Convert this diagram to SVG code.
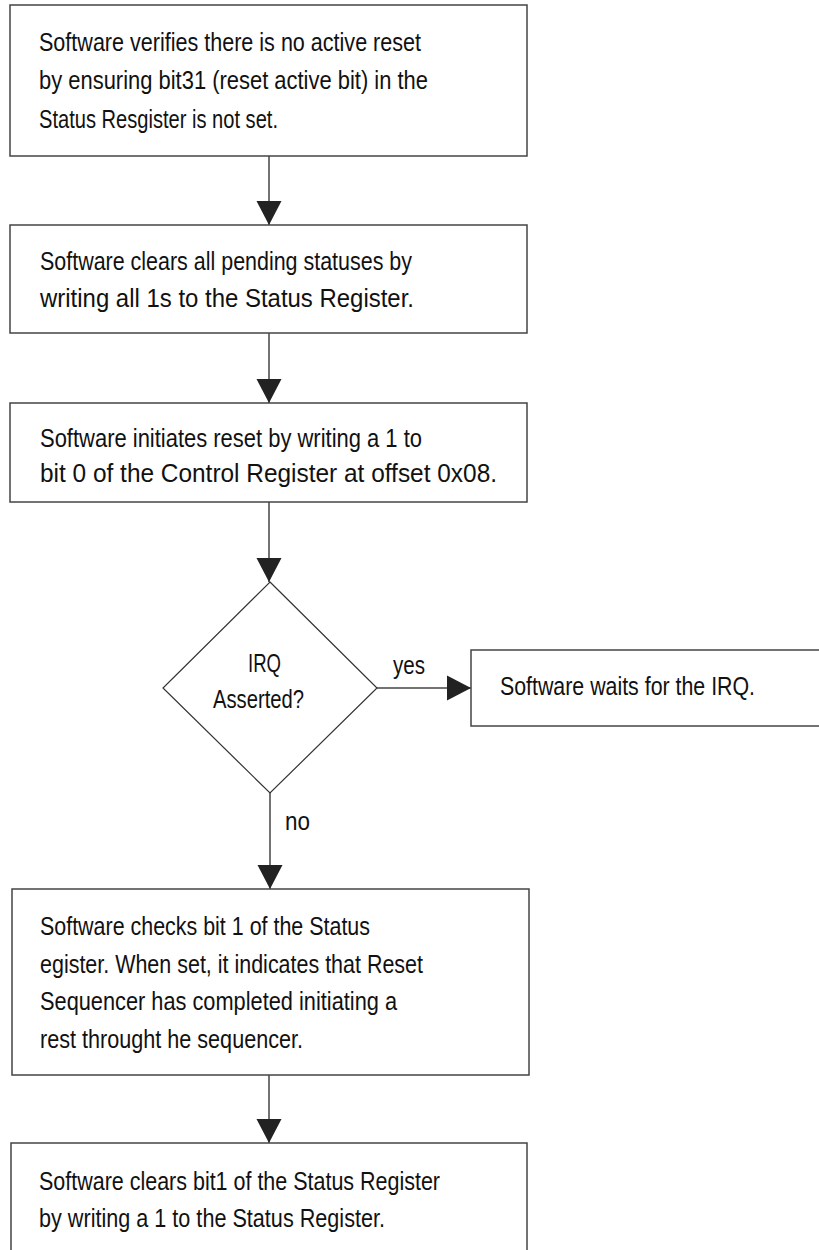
<svg xmlns="http://www.w3.org/2000/svg" width="819" height="1250" viewBox="0 0 819 1250">
<style>
.box{fill:#fff;stroke:#444;stroke-width:1.5}
.dia{fill:#fff;stroke:#333;stroke-width:1.2}
.t{font-family:"Liberation Sans",Arial,sans-serif;font-size:26px;fill:#111}
.c{stroke:#444;stroke-width:1.5;fill:none;marker-end:url(#ah)}
</style>
<defs>
<marker id="ah" markerUnits="userSpaceOnUse" markerWidth="24" markerHeight="26" refX="24" refY="12.5" orient="auto" viewBox="0 0 24 25">
<path d="M0,0 L24,12.5 L0,25 Z" fill="#222"/>
</marker>
</defs>
<rect width="819" height="1250" fill="#fff"/>
<g id="connectors">
<line class="c" x1="269" y1="156" x2="269" y2="225"/>
<line class="c" x1="269" y1="333" x2="269" y2="403"/>
<line class="c" x1="269" y1="502" x2="269" y2="582"/>
<line class="c" x1="377" y1="688" x2="471" y2="688"/>
<line class="c" x1="270" y1="793" x2="270" y2="889"/>
<line class="c" x1="269" y1="1075" x2="269" y2="1143"/>
<text class="t" x="393" y="674" textLength="32" lengthAdjust="spacingAndGlyphs">yes</text>
<text class="t" x="285" y="830" textLength="25" lengthAdjust="spacingAndGlyphs">no</text>
</g>
<g id="n1">
<rect class="box" x="10" y="5" width="517" height="151"/>
<text class="t" x="39" y="51" textLength="382" lengthAdjust="spacingAndGlyphs">Software verifies there is no active reset</text>
<text class="t" x="39" y="89" textLength="389" lengthAdjust="spacingAndGlyphs">by ensuring bit31 (reset active bit) in the</text>
<text class="t" x="39" y="128" textLength="239" lengthAdjust="spacingAndGlyphs">Status Resgister is not set.</text>
</g>
<g id="n2">
<rect class="box" x="10" y="225" width="517" height="108"/>
<text class="t" x="40" y="270" textLength="372" lengthAdjust="spacingAndGlyphs">Software clears all pending statuses by</text>
<text class="t" x="40" y="307" textLength="374" lengthAdjust="spacingAndGlyphs">writing all 1s to the Status Register.</text>
</g>
<g id="n3">
<rect class="box" x="10" y="403" width="517" height="99"/>
<text class="t" x="40" y="447" textLength="382" lengthAdjust="spacingAndGlyphs">Software initiates reset by writing a 1 to</text>
<text class="t" x="40" y="482" textLength="457" lengthAdjust="spacingAndGlyphs">bit 0 of the Control Register at offset 0x08.</text>
</g>
<g id="n4">
<polygon class="dia" points="270,582 377,688 270,793 163,688"/>
<text class="t" x="248" y="672" textLength="33" lengthAdjust="spacingAndGlyphs">IRQ</text>
<text class="t" x="213" y="708" textLength="91" lengthAdjust="spacingAndGlyphs">Asserted?</text>
</g>
<g id="n5">
<rect class="box" x="471" y="650" width="360" height="76"/>
<text class="t" x="500" y="695" textLength="255" lengthAdjust="spacingAndGlyphs">Software waits for the IRQ.</text>
</g>
<g id="n6">
<rect class="box" x="12" y="889" width="517" height="186"/>
<text class="t" x="40" y="935" textLength="330" lengthAdjust="spacingAndGlyphs">Software checks bit 1 of the Status</text>
<text class="t" x="40" y="973" textLength="383" lengthAdjust="spacingAndGlyphs">egister. When set, it indicates that Reset</text>
<text class="t" x="40" y="1010" textLength="357" lengthAdjust="spacingAndGlyphs">Sequencer has completed initiating a</text>
<text class="t" x="40" y="1048" textLength="263" lengthAdjust="spacingAndGlyphs">rest throught he sequencer.</text>
</g>
<g id="n7">
<rect class="box" x="11" y="1143" width="516" height="130"/>
<text class="t" x="39" y="1190" textLength="401" lengthAdjust="spacingAndGlyphs">Software clears bit1 of the Status Register</text>
<text class="t" x="39" y="1227" textLength="346" lengthAdjust="spacingAndGlyphs">by writing a 1 to the Status Register.</text>
</g>
</svg>
